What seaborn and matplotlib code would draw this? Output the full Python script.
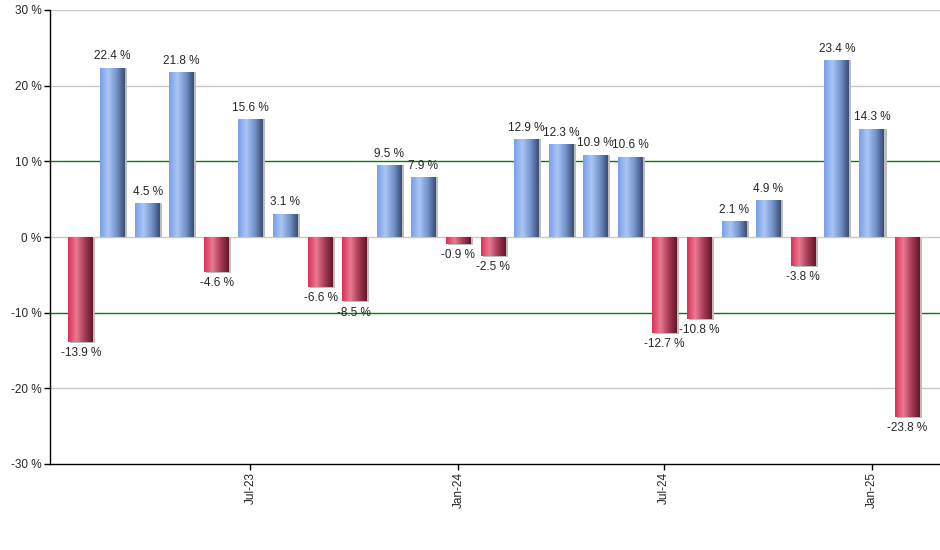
import matplotlib
matplotlib.use("Agg")
import matplotlib.pyplot as plt
import matplotlib.dates as mdates
from matplotlib.colors import LinearSegmentedColormap
import numpy as np
import pandas as pd
import seaborn as sns

months = ["2023-02", "2023-03", "2023-04", "2023-05", "2023-06", "2023-07", "2023-08",
          "2023-09", "2023-10", "2023-11", "2023-12", "2024-01", "2024-02", "2024-03",
          "2024-04", "2024-05", "2024-06", "2024-07", "2024-08", "2024-09", "2024-10",
          "2024-11", "2024-12", "2025-01", "2025-02"]
returns = [-13.9, 22.4, 4.5, 21.8, -4.6, 15.6, 3.1, -6.6, -8.5, 9.5, 7.9, -0.9, -2.5,
           12.9, 12.3, 10.9, 10.6, -12.7, -10.8, 2.1, 4.9, -3.8, 23.4, 14.3, -23.8]
shown_ticks = ["2023-07", "2024-01", "2024-07", "2025-01"]
shown_labels = ["Jul-23", "Jan-24", "Jul-24", "Jan-25"]
y_ticks = [-30, -20, -10, 0, 10, 20, 30]

dnum = mdates.date2num(pd.to_datetime(months))
df = pd.DataFrame({"day": dnum, "ret": returns})

sns.set_style("white")
plt.rcParams["font.family"] = ["Liberation Sans", "DejaVu Sans"]

fig = plt.figure(figsize=(9.4, 5.5), dpi=100)
ax = fig.add_axes([50 / 940, 86 / 550, 890 / 940, 454 / 550])

sns.barplot(data=df, x="day", y="ret", native_scale=True, width=0.79, color="white", ax=ax)

blue = LinearSegmentedColormap.from_list("b", ["#7a9fe8", "#abc6f6", "#7594cc", "#3a4d72"])
red = LinearSegmentedColormap.from_list("r", ["#dd2f56", "#e97b91", "#a93c57", "#631729"])
grad = np.linspace(0, 1, 64).reshape(1, -1)

patches = sorted(ax.patches, key=lambda p: p.get_x())
for patch, val in zip(patches, returns):
    x0, y0 = patch.get_x(), patch.get_y()
    w, h = patch.get_width(), patch.get_height()
    ybot, ytop = min(y0, y0 + h), max(y0, y0 + h)
    # thin grey shadow on the right edge
    ax.add_patch(plt.Rectangle((x0 + 1.8, ybot - (0.15 if val < 0 else 0)), w, ytop - ybot,
                               color="#bdbdbd", zorder=2, lw=0))
    patch.set_facecolor("none")
    patch.set_edgecolor("none")
    patch.set_zorder(3)
    im = ax.imshow(grad, cmap=blue if val >= 0 else red, aspect="auto",
                   extent=(x0, x0 + w, ybot, ytop), zorder=3, interpolation="bicubic")
    im.set_clip_path(patch)
    xc = x0 + w / 2
    if val >= 0:
        ax.text(xc, val + 0.7, f"{val} %", ha="center", va="bottom", fontsize=8.5, zorder=5)
    else:
        ax.text(xc, val - 0.7, f"{val} %", ha="center", va="top", fontsize=8.5, zorder=5)

for yv in y_ticks:
    if abs(yv) == 10:
        ax.axhline(yv, color="green", lw=1, zorder=1)
    elif yv != -30:
        ax.axhline(yv, color="#c8c8c8", lw=1, zorder=1)

ax.set_xlim(dnum[0] - 27.4, dnum[-1] + 29.2)
ax.set_ylim(-30, 30)
ax.set_yticks(y_ticks)
ax.set_yticklabels([f"{v} %" for v in y_ticks], fontsize=8.5)
ax.set_xticks(mdates.date2num(pd.to_datetime(shown_ticks)))
ax.set_xticklabels(shown_labels, rotation=90, fontsize=8.5)
ax.tick_params(axis="both", length=4, width=1, color="black", direction="out",
               bottom=True, left=True, pad=2)
ax.set_xlabel("")
ax.set_ylabel("")
for s in ["top", "right"]:
    ax.spines[s].set_visible(False)
for s in ["left", "bottom"]:
    ax.spines[s].set_color("black")
    ax.spines[s].set_linewidth(1)

fig.savefig("out.png", dpi=100)
